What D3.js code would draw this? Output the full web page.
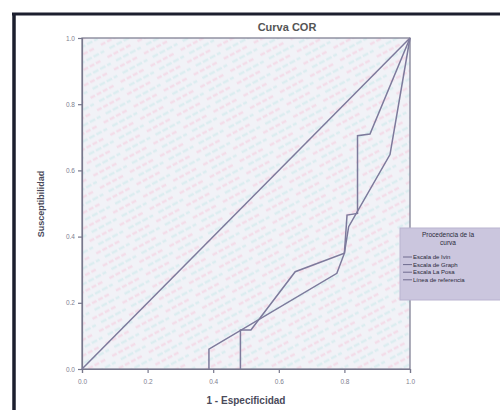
<!DOCTYPE html>
<html><head><meta charset="utf-8">
<script src="https://cdn.jsdelivr.net/npm/d3@7"></script>
<style>body{margin:0;background:#fff}svg{display:block}</style>
</head><body>
<script>
const title = "Curva COR";
const xLabel = "1 - Especificidad";
const yLabel = "Susceptibilidad";
const ticks = [0, 0.2, 0.4, 0.6, 0.8, 1.0];
const seriesNames = ["Escala de Ivin", "Escala de Graph", "Escala La Posa", "Línea de referencia"];
const legendTitle = ["Procedencia de la", "curva"];
// ROC curves: [1 - specificity, sensitivity]
const curve1 = [[0.483,0],[0.483,0.118],[0.515,0.118],[0.65,0.294],[0.80,0.35],[0.808,0.465],[0.84,0.47],[0.84,0.705],[0.878,0.71],[1,1]];
const curve2 = [[0.387,0],[0.387,0.06],[0.777,0.289],[0.80,0.35],[0.813,0.43],[0.939,0.648],[1,1]];
const reference = [[0,0],[1,1]];

const W = 500, H = 410;
const svg = d3.select("body").append("svg").attr("width", W).attr("height", H);
const x = d3.scaleLinear().domain([0,1]).range([82, 410]);
const y = d3.scaleLinear().domain([0,1]).range([369, 38]);

const defs = svg.append("defs");
const pat = defs.append("pattern").attr("id","wm").attr("patternUnits","userSpaceOnUse")
  .attr("width",34).attr("height",14).attr("patternTransform","rotate(-28)");
pat.append("rect").attr("width",34).attr("height",14).attr("fill","#f1f2f7");
pat.append("line").attr("x1",0).attr("x2",26).attr("y1",3).attr("y2",3).attr("stroke","#f3dde9").attr("stroke-width",2.5).attr("stroke-dasharray","5 2");
pat.append("line").attr("x1",6).attr("x2",34).attr("y1",10).attr("y2",10).attr("stroke","#dcedf0").attr("stroke-width",2.5).attr("stroke-dasharray","6 2");

svg.append("line").attr("x1",12).attr("x2",W).attr("y1",14).attr("y2",14).attr("stroke","#1c1f2e").attr("stroke-width",3);
svg.append("line").attr("x1",14).attr("x2",14).attr("y1",13).attr("y2",H).attr("stroke","#1c1f2e").attr("stroke-width",3.5);

svg.append("rect").attr("x",x(0)).attr("y",y(1)).attr("width",x(1)-x(0)).attr("height",y(0)-y(1))
  .attr("fill","url(#wm)").attr("stroke","#77778c").attr("stroke-width",1.2);

const axCol = "#77778c";
const xa = svg.append("g").attr("transform",`translate(0,${y(0)})`)
  .call(d3.axisBottom(x).tickValues(ticks).tickFormat(d3.format(".1f")).tickSize(4));
const ya = svg.append("g").attr("transform",`translate(${x(0)},0)`)
  .call(d3.axisLeft(y).tickValues(ticks).tickFormat(d3.format(".1f")).tickSize(4));
[xa, ya].forEach(g => {
  g.select(".domain").attr("stroke", axCol).attr("stroke-width",1.2);
  g.selectAll(".tick line").attr("stroke", axCol).attr("stroke-width",1.2);
  g.selectAll("text").attr("fill","#80808f").attr("font-size","6.5px").attr("font-family","Liberation Sans, Arial, sans-serif");
});
xa.selectAll("text").attr("dy","1.2em");

const line = d3.line().x(d => x(d[0])).y(d => y(d[1]));
const lineCol = "#7d7a9c";
[reference, curve2, curve1].forEach(c => {
  svg.append("path").datum(c).attr("d", line).attr("fill","none")
    .attr("stroke", lineCol).attr("stroke-width",1.5).attr("stroke-linejoin","miter");
});

svg.append("text").attr("x",287).attr("y",31).attr("text-anchor","middle")
  .attr("font-family","Liberation Sans, Arial, sans-serif").attr("font-weight","bold")
  .attr("font-size","11px").attr("fill","#555").text(title);
svg.append("text").attr("x",246).attr("y",404).attr("text-anchor","middle")
  .attr("font-family","Liberation Sans, Arial, sans-serif").attr("font-weight","bold")
  .attr("font-size","10px").attr("fill","#4a4a5a").text(xLabel);
svg.append("text").attr("transform","translate(44,204) rotate(-90)").attr("text-anchor","middle")
  .attr("font-family","Liberation Sans, Arial, sans-serif").attr("font-weight","bold")
  .attr("font-size","9px").attr("fill","#4a4a5a").text(yLabel);

const lg = svg.append("g").attr("transform","translate(400,228)");
lg.append("rect").attr("width",102).attr("height",72).attr("fill","#cbc6de").attr("stroke","#b9b3d0");
legendTitle.forEach((t,i) => lg.append("text").attr("x",48).attr("y",9+i*8).attr("text-anchor","middle")
  .attr("font-family","Liberation Sans, Arial, sans-serif").attr("font-size","6.5px").attr("fill","#2a2a3a").text(t));
seriesNames.forEach((n,i) => {
  const yy = 31 + i*7.6;
  lg.append("line").attr("x1",3).attr("x2",12).attr("y1",yy-2).attr("y2",yy-2).attr("stroke","#6e6a8e").attr("stroke-width",1);
  lg.append("text").attr("x",13).attr("y",yy).attr("font-family","Liberation Sans, Arial, sans-serif")
    .attr("font-size","6px").attr("fill","#2a2a3a").text(n);
});
</script>
</body></html>
